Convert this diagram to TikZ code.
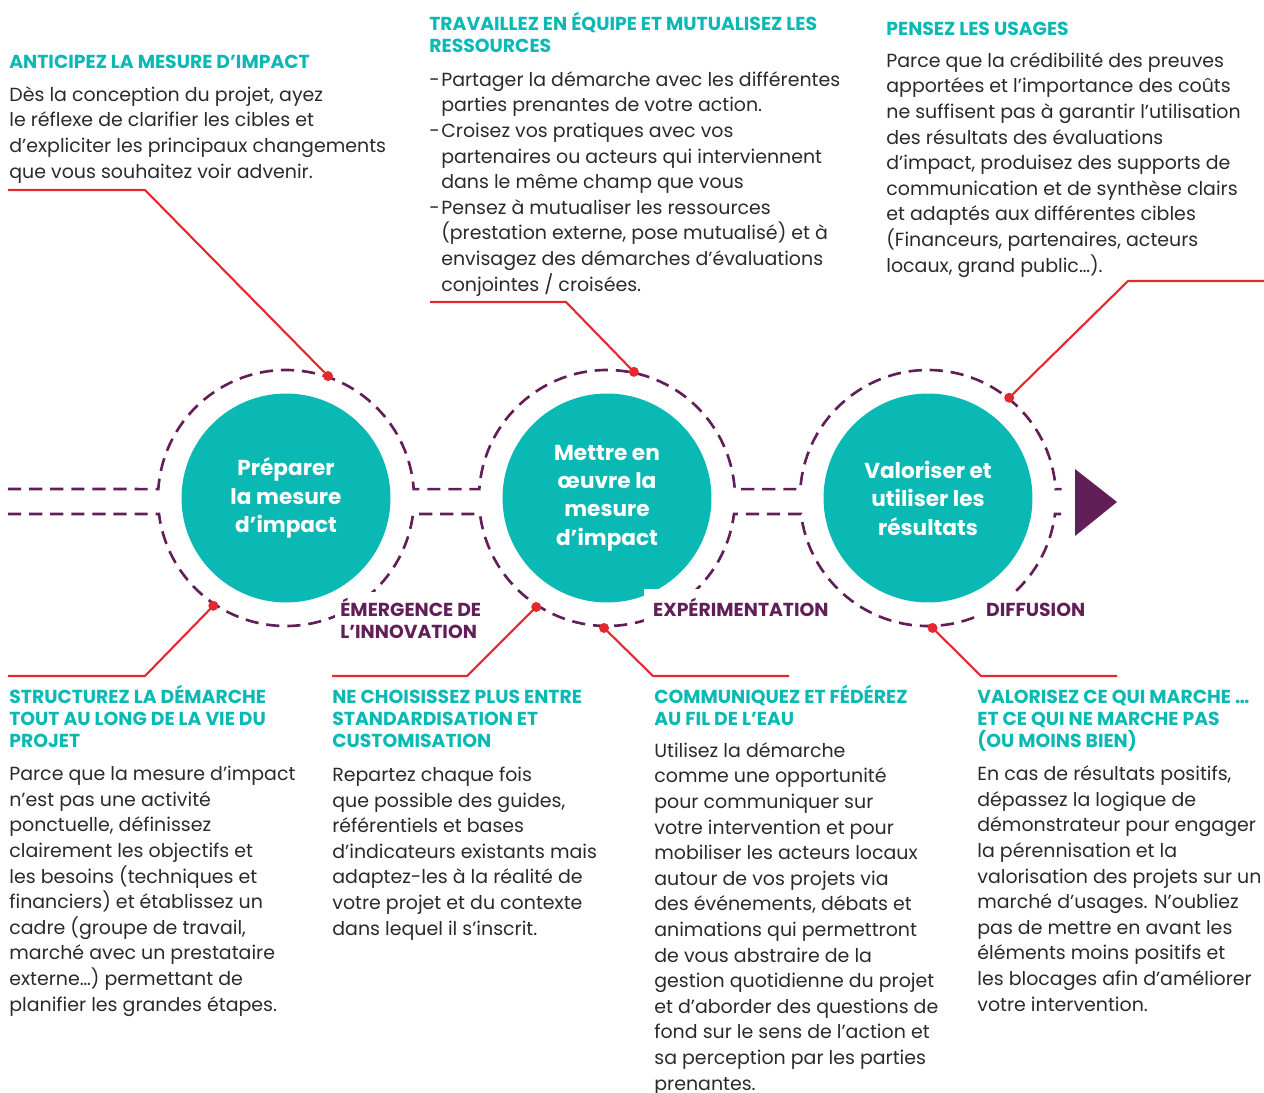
\documentclass[tikz,border=0pt]{standalone}
\usepackage{fontspec}
\setmainfont{Poppins}
\usepackage{xcolor}
\usepackage{tikz}
\usetikzlibrary{calc}
\definecolor{turq}{HTML}{0BB9B4}
\definecolor{plum}{HTML}{621F57}
\definecolor{cherry}{HTML}{E5282D}
\definecolor{ink}{HTML}{2A2A2A}

\begin{document}
\begin{tikzpicture}[
 x=0.02cm,y=0.02cm,
 disc/.style={circle,fill=turq,minimum size=4.18cm,inner sep=0pt,text=white,align=center,font=\bfseries\fontsize{12.3}{16.2}\selectfont},
 pipe/.style={draw=plum,line width=1.5pt,dash pattern=on 7.5pt off 4.5pt},
 link/.style={draw=cherry,line width=1.2pt},
 dot/.style={circle,fill=cherry,inner sep=0pt,minimum size=0.2cm},
 head/.style={anchor=base west,inner sep=0pt,align=left,text=turq,font=\bfseries\fontsize{10.7}{12.5}\selectfont},
 body/.style={anchor=base west,inner sep=0pt,align=left,text=ink,font=\fontsize{10.8}{14.57}\selectfont},
 phase/.style={anchor=base west,inner sep=5pt,fill=white,align=left,text=plum,font=\bfseries\fontsize{10.7}{12.5}\selectfont}
]
\useasboundingbox (0,0) rectangle (1264,-1092);

\node[disc] (prep) at (286,-498) {Préparer\\la mesure\\d’impact};
\node[disc] (mise) at (607,-498) {Mettre en\\œuvre la\\mesure\\d’impact};
\node[disc] (valo) at (928,-498) {Valoriser et\\utiliser les\\résultats};

\draw[pipe] (8,-489) -- ($(prep)+(176:128)$) arc[start angle=176,end angle=4,radius=128]
 -- ($(mise)+(176:128)$) arc[start angle=176,end angle=4,radius=128]
 -- ($(valo)+(176:128)$) arc[start angle=176,end angle=4,radius=128] -- ++(6,0);
\draw[pipe] (8,-514) -- ($(prep)+(187.2:128)$) arc[start angle=187.2,end angle=352.8,radius=128]
 -- ($(mise)+(187.2:128)$) arc[start angle=187.2,end angle=352.8,radius=128]
 -- ($(valo)+(187.2:128)$) arc[start angle=187.2,end angle=352.8,radius=128] -- ++(6,0);
\fill[plum] (1075,-469) -- (1075,-536) -- (1117,-502) -- cycle;

% labels: last baseline given
\node[phase,inner sep=3pt] (emerg) at (334.7,-638) {ÉMERGENCE DE\\L’INNOVATION};
\node[phase] (exper) at (644,-616) {EXPÉRIMENTATION};
\node[phase] (diffu) at (977,-616) {DIFFUSION};

\node[dot] (d1) at ($(prep)+(71:129)$) {};
\node[dot] (d2) at ($(mise)+(78:129)$) {};
\node[dot] (d3) at ($(valo)+(51:129)$) {};
\node[dot] (d4) at ($(prep)+(236:130)$) {};
\node[dot] (d5) at ($(mise)+(237:130)$) {};
\node[dot] (d6) at ($(mise)+(268.7:130)$) {};
\node[dot] (d7) at ($(valo)+(272:130)$) {};
\coordinate (k1) at (145,-190); \coordinate (e1) at (8,-190);
\coordinate (k2) at (566,-302); \coordinate (e2) at (430,-302);
\coordinate (k3) at (1128,-281); \coordinate (e3) at (1264,-281);
\coordinate (k4) at (145,-676); \coordinate (e4) at (8,-676);
\coordinate (k5) at (467,-676); \coordinate (e5) at (332,-676);
\coordinate (k6) at (653,-676); \coordinate (e6) at (789,-676);
\coordinate (k7) at (981,-676); \coordinate (e7) at (1117,-676);
\draw[link] (d1.center) -- (k1) -- (e1);
\draw[link] (d2.center) -- (k2) -- (e2);
\draw[link] (d3.center) -- (k3) -- (e3);
\draw[link] (d4.center) -- (k4) -- (e4);
\draw[link] (d5.center) -- (k5) -- (e5);
\draw[link] (d6.center) -- (k6) -- (e6);
\draw[link] (d7.center) -- (k7) -- (e7);

\node[head] (anticip) at (9,-68) {ANTICIPEZ LA MESURE D’IMPACT};
\node[body] (anticiptxt) at (9,-178) {Dès la conception du projet, ayez\\le réflexe de clarifier les cibles et\\d’expliciter les principaux changements\\que vous souhaitez voir advenir.};

\node[head] (equipe) at (429,-52) {TRAVAILLEZ EN ÉQUIPE ET MUTUALISEZ LES\\RESSOURCES};
\node[body] (equipetxt) at (429,-291) {\makebox[6.8pt][l]{-}Partager la démarche avec les différentes\\
 \hspace*{6.8pt}parties prenantes de votre action.\\
 \makebox[6.8pt][l]{-}Croisez vos pratiques avec vos\\
 \hspace*{6.8pt}partenaires ou acteurs qui interviennent\\
 \hspace*{6.8pt}dans le même champ que vous\\
 \makebox[6.8pt][l]{-}Pensez à mutualiser les ressources\\
 \hspace*{6.8pt}(prestation externe, pose mutualisé) et à\\
 \hspace*{6.8pt}envisagez des démarches d’évaluations\\
 \hspace*{6.8pt}conjointes / croisées.};

\node[head] (usages) at (886,-35) {PENSEZ LES USAGES};
\node[body] (usagestxt) at (886,-272) {Parce que la crédibilité des preuves\\apportées et l’importance des coûts\\ne suffisent pas à garantir l’utilisation\\des résultats des évaluations\\d’impact, produisez des supports de\\communication et de synthèse clairs\\et adaptés aux différentes cibles\\(Financeurs, partenaires, acteurs\\locaux, grand public…).};

\node[head] (structure) at (9,-747) {STRUCTUREZ LA DÉMARCHE\\TOUT AU LONG DE LA VIE DU\\PROJET};
\node[body] (structuretxt) at (9,-1011) {Parce que la mesure d’impact\\n’est pas une activité\\ponctuelle, définissez\\clairement les objectifs et\\les besoins (techniques et\\financiers) et établissez un\\cadre (groupe de travail,\\marché avec un prestataire\\externe…) permettant de\\planifier les grandes étapes.};

\node[head] (choix) at (332,-747) {NE CHOISISSEZ PLUS ENTRE\\STANDARDISATION ET\\CUSTOMISATION};
\node[body] (choixtxt) at (332,-935) {Repartez chaque fois\\que possible des guides,\\référentiels et bases\\d’indicateurs existants mais\\adaptez-les à la réalité de\\votre projet et du contexte\\dans lequel il s’inscrit.};

\node[head] (commu) at (654,-725) {COMMUNIQUEZ ET FÉDÉREZ\\AU FIL DE L’EAU};
\node[body] (commutxt) at (654,-1090) {Utilisez la démarche\\comme une opportunité\\pour communiquer sur\\votre intervention et pour\\mobiliser les acteurs locaux\\autour de vos projets via\\des événements, débats et\\animations qui permettront\\de vous abstraire de la\\gestion quotidienne du projet\\et d’aborder des questions de\\fond sur le sens de l’action et\\sa perception par les parties\\prenantes.};

\node[head] (marche) at (977,-747) {VALORISEZ CE QUI MARCHE …\\ET CE QUI NE MARCHE PAS\\(OU MOINS BIEN)};
\node[body] (marchetxt) at (977,-1011) {En cas de résultats positifs,\\dépassez la logique de\\démonstrateur pour engager\\la pérennisation et la\\valorisation des projets sur un\\marché d’usages. N’oubliez\\pas de mettre en avant les\\éléments moins positifs et\\les blocages afin d’améliorer\\votre intervention.};
\end{tikzpicture}
\end{document}
